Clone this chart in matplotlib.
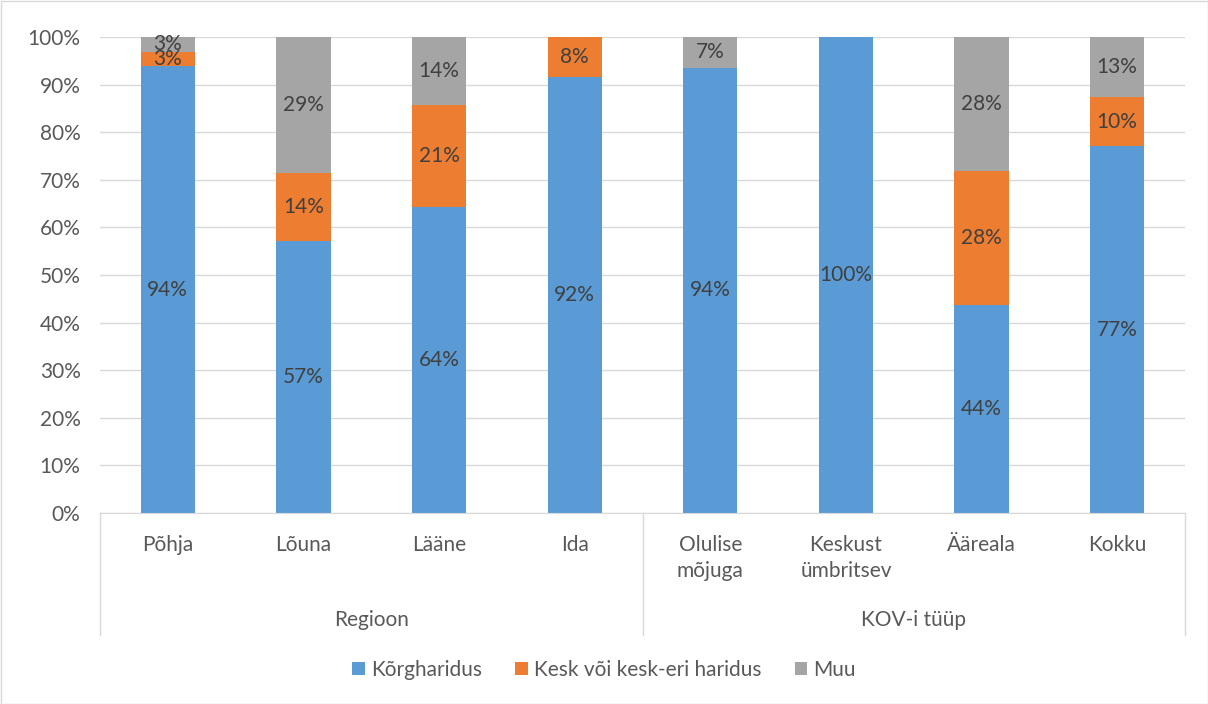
import matplotlib
matplotlib.use("Agg")
import matplotlib.pyplot as plt
import numpy as np
from matplotlib.lines import Line2D
from matplotlib.patches import Rectangle

plt.rcParams['font.family'] = ['Lato', 'DejaVu Sans']

# data (percent)
categories = ['Põhja', 'Lõuna', 'Lääne', 'Ida', 'Olulise\nmõjuga',
              'Keskust\nümbritsev', 'Ääreala', 'Kokku']
groups = ['Regioon', 'KOV-i tüüp']
group_spans = [(0, 3), (4, 7)]
korg = [93.9, 57.1, 64.3, 91.7, 93.5, 100.0, 43.6, 77.0]
kesk = [3.0, 14.3, 21.4, 8.3, 0.0, 0.0, 28.2, 10.3]
muu = [3.1, 28.6, 14.3, 0.0, 6.5, 0.0, 28.2, 12.7]
series_names = ['Kõrgharidus', 'Kesk või kesk-eri haridus', 'Muu']
colors = ['#5B9BD5', '#ED7D31', '#A5A5A5']

FS = 15

fig = plt.figure(figsize=(12.08, 7.04), dpi=100)
ax = fig.add_axes([100 / 1208, 1 - 513 / 704, 1085 / 1208, 476 / 704])

x = np.arange(len(categories))
bottom = np.zeros(len(categories))
for vals, name, col in zip([korg, kesk, muu], series_names, colors):
    vals = np.array(vals)
    ax.bar(x, vals, 0.4, bottom=bottom, color=col, label=name, zorder=2)
    for xi, b, v in zip(x, bottom, vals):
        if v > 0:
            ax.text(xi, b + v / 2, f'{int(v + 0.5)}%', ha='center', va='center',
                    fontsize=FS, color='#404040', zorder=3)
    bottom += vals

ax.set_xlim(-0.5, len(categories) - 0.5)
ax.set_ylim(0, 100)
ax.set_yticks(np.arange(0, 101, 10))
ax.set_yticklabels([f'{t}%' for t in range(0, 101, 10)])
ax.tick_params(axis='y', length=0, labelsize=FS, labelcolor='#595959', pad=14)
ax.set_xticks([])
ax.grid(axis='y', color='#D9D9D9', linewidth=1, zorder=0)
for s in ['left', 'right', 'top']:
    ax.spines[s].set_visible(False)
ax.spines['bottom'].set_color('#D9D9D9')

trans = ax.get_xaxis_transform()
for xi, lab in zip(x, categories):
    ax.text(xi, -22 / 476, lab, transform=trans, ha='center', va='top',
            fontsize=FS, color='#595959', linespacing=1.4)
for g, (a, b) in zip(groups, group_spans):
    ax.text((a + b) / 2, -107 / 476, g, transform=trans, ha='center', va='center',
            fontsize=FS, color='#595959')
for xs in [-0.5, 3.5, len(categories) - 0.5]:
    ax.add_line(Line2D([xs, xs], [0, -122 / 476], transform=trans, color='#D9D9D9',
                       linewidth=1, clip_on=False))

fig.legend(loc='center', bbox_to_anchor=(0.5, 1 - 670 / 704), ncol=3, frameon=False,
           fontsize=FS, handlelength=0.6, handleheight=0.6, handletextpad=0.3,
           columnspacing=1.6, labelcolor='#595959')

fig.patches.append(Rectangle((0.5 / 1208, 0.5 / 704), 1 - 1 / 1208, 1 - 1 / 704,
                             transform=fig.transFigure, fill=False,
                             edgecolor='#D9D9D9', linewidth=1))

fig.savefig('out.png', dpi=100)
